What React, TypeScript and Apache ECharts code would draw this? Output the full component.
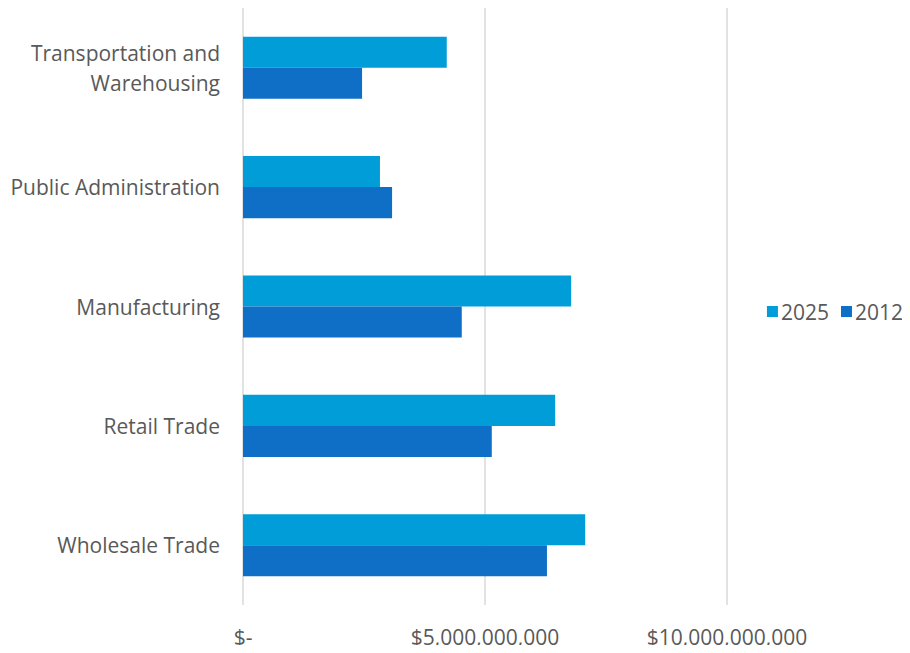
import React, { useEffect, useRef } from "react";
import * as echarts from "echarts";

const categories = [
  "Wholesale Trade",
  "Retail Trade",
  "Manufacturing",
  "Public Administration",
  "Transportation and\nWarehousing",
];
const values2012 = [6.28e9, 5.14e9, 4.52e9, 3.08e9, 2.46e9];
const values2025 = [7.07e9, 6.45e9, 6.78e9, 2.83e9, 4.21e9];
const seriesNames = ["2025", "2012"];

const FONT = "'Open Sans', sans-serif";

function fmt(v: number): string {
  if (v === 0) return "$-";
  const s = Math.round(v).toString().replace(/\B(?=(\d{3})+(?!\d))/g, ",");
  return "$" + s;
}

export default function App() {
  const ref = useRef<HTMLDivElement>(null);
  useEffect(() => {
    if (!ref.current) return;
    const chart = echarts.init(ref.current, undefined, { renderer: "svg" });
    chart.setOption({
      animation: false,
      backgroundColor: "#ffffff",
      grid: { left: 243, right: 183, top: 8, bottom: 48, containLabel: false },
      legend: {
        data: seriesNames,
        orient: "horizontal",
        right: 2,
        top: 296,
        itemWidth: 11,
        itemHeight: 11,
        itemGap: 12,
        icon: "rect",
        textStyle: { color: "#595959", fontSize: 21, fontFamily: FONT, padding: [0, 0, 0, -2] },
      },
      xAxis: {
        type: "value",
        min: 0,
        max: 10e9,
        interval: 5e9,
        axisLine: { show: false },
        axisTick: { show: false },
        splitLine: { show: true, lineStyle: { color: "#d9d9d9", width: 1.5 } },
        axisLabel: {
          formatter: fmt,
          color: "#595959",
          fontSize: 21,
          fontFamily: FONT,
          margin: 21,
        },
      },
      yAxis: {
        type: "category",
        data: categories,
        axisLine: { show: false },
        axisTick: { show: false },
        axisLabel: {
          color: "#595959",
          fontSize: 21,
          fontFamily: FONT,
          margin: 23,
          lineHeight: 30,
          align: "right",
        },
      },
      series: [
        {
          name: "2025",
          type: "bar",
          data: values2025,
          itemStyle: { color: "#009DD9" },
          barGap: "0%",
          barCategoryGap: "48%",
        },
        {
          name: "2012",
          type: "bar",
          data: values2012,
          itemStyle: { color: "#0F6FC6" },
          barGap: "0%",
          barCategoryGap: "48%",
        },
      ],
    });
    return () => chart.dispose();
  }, []);
  return <div ref={ref} style={{ width: 910, height: 653, margin: -8 }} />;
}
